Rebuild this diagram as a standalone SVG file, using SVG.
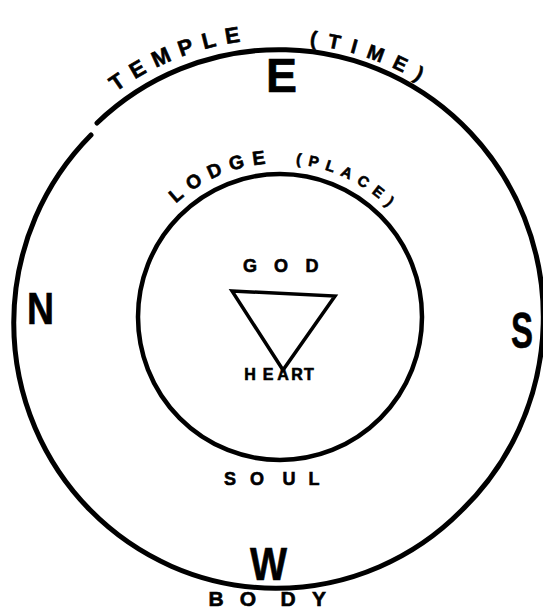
<svg xmlns="http://www.w3.org/2000/svg" width="543" height="609" viewBox="0 0 543 609">
  <style>
    .ring { fill: none; stroke: #000; stroke-linecap: round; }
    .lbl { font-family: "Liberation Sans", "DejaVu Sans", Arial, sans-serif; font-weight: bold; fill: #000; stroke: #000; stroke-width: 0.6; }
  </style>
  <defs>
    <path id="templeArc" d="M 1 317 A 278 278 0 0 1 557 317"/>
    <path id="timeArc" d="M 5 317 A 274 274 0 0 1 553 317"/>
    <path id="lodgeArc" d="M 126 317 A 154 154 0 0 1 434 317"/>
  </defs>
  <rect width="543" height="609" fill="#fff"/>

  <g id="temple">
    <path class="ring" stroke-width="5" d="M 97 123 A 262 265 0 0 1 461 511 A 262 265 0 0 1 91 135"/>
    <text class="lbl" font-size="22"><textPath href="#templeArc" startOffset="37.8%" text-anchor="middle" textLength="136" lengthAdjust="spacing">TEMPLE</textPath></text>
    <text class="lbl" font-size="20"><textPath href="#timeArc" startOffset="60.3%" text-anchor="middle" textLength="116" lengthAdjust="spacing">(TIME)</textPath></text>
  </g>

  <g id="lodge">
    <ellipse class="ring" stroke-width="4.5" cx="280" cy="317" rx="142" ry="143"/>
    <text class="lbl" font-size="19"><textPath href="#lodgeArc" startOffset="36.7%" text-anchor="middle" textLength="100" lengthAdjust="spacing">LODGE</textPath></text>
    <text class="lbl" font-size="15"><textPath href="#lodgeArc" startOffset="64%" text-anchor="middle" textLength="104" lengthAdjust="spacing">(PLACE)</textPath></text>
  </g>

  <g id="god">
    <text class="lbl" font-size="18" text-anchor="middle" x="250 281 312" y="272">GOD</text>
  </g>

  <g id="heart">
    <polygon points="232,291 335,296 283,370" fill="none" stroke="#000" stroke-width="3.5" stroke-linejoin="miter"/>
    <text class="lbl" font-size="16" text-anchor="middle" x="250 268 283 297 309" y="380">HEART</text>
  </g>

  <g id="soul">
    <text class="lbl" font-size="18" text-anchor="middle" x="230 257 289 314" y="485">SOUL</text>
  </g>

  <g id="east">
    <text class="lbl" font-size="48" x="266" y="92" textLength="31" lengthAdjust="spacingAndGlyphs">E</text>
  </g>
  <g id="north">
    <text class="lbl" font-size="45" x="27" y="324" textLength="27" lengthAdjust="spacingAndGlyphs">N</text>
  </g>
  <g id="south">
    <text class="lbl" font-size="50" x="511" y="348" textLength="22" lengthAdjust="spacingAndGlyphs">S</text>
  </g>
  <g id="west">
    <text class="lbl" font-size="46" x="250" y="580" textLength="37" lengthAdjust="spacingAndGlyphs">W</text>
  </g>

  <g id="body">
    <text class="lbl" font-size="21" text-anchor="middle" x="216 248 288 319" y="606">BODY</text>
  </g>
</svg>
